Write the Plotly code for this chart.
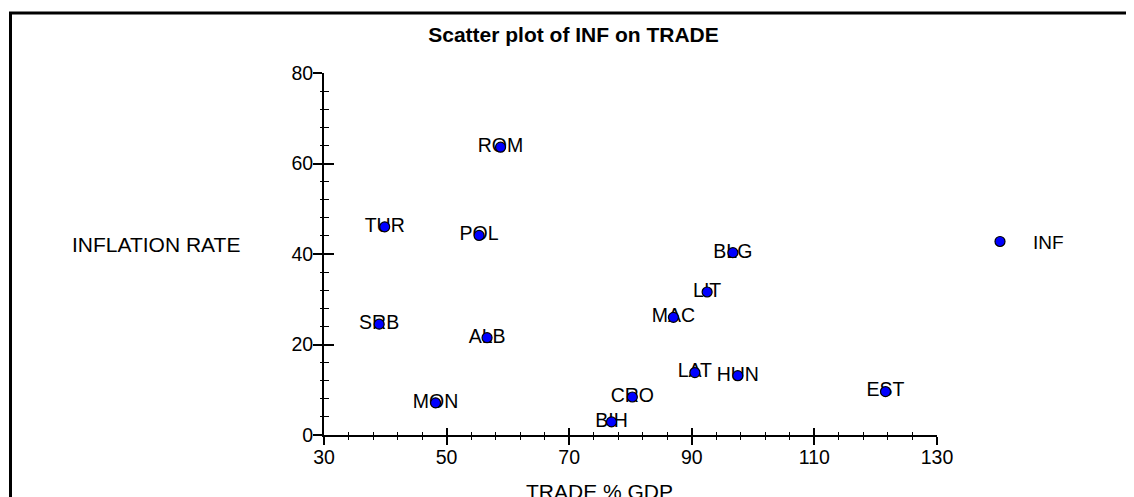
import plotly.graph_objects as go

# ---- data ----
countries = ["ROM", "TUR", "POL", "BLG", "LIT", "MAC", "SRB", "ALB",
             "LAT", "HUN", "EST", "CRO", "MON", "BIH"]
trade = [58.8, 39.9, 55.3, 96.7, 92.5, 87.0, 39.0, 56.6,
         90.5, 97.5, 121.6, 80.3, 48.2, 76.9]
inflation = [63.6, 46.0, 44.1, 40.3, 31.6, 26.0, 24.5, 21.5,
             13.8, 13.1, 9.6, 8.4, 7.1, 2.9]
x_range = [30, 130]
y_range = [0, 80]
x_ticks = [30, 50, 70, 90, 110, 130]
y_ticks = [0, 20, 40, 60, 80]

# ---- layout geometry (page pixels; the page body adds an 8px offset) ----
OFF = 8
W, H = 1134 - OFF, 497 - OFF
L, R, T, B = 324 - OFF, 937 - OFF, 72.7 - OFF, 435.5 - OFF
PW, PH = R - L, B - T

def px(xp):
    return (xp - OFF - L) / PW

def py(yp):
    return (B - (yp - OFF)) / PH

FONT = "Liberation Sans, Arial, sans-serif"
FS = 19.5

fig = go.Figure()

# labels (drawn under the markers)
fig.add_trace(go.Scatter(
    x=trade, y=inflation, text=countries, mode="text",
    textposition="middle center",
    textfont=dict(family=FONT, size=FS, color="#000000"),
    showlegend=False, hoverinfo="skip",
    xaxis="x", yaxis="y",
))

# markers (on overlay axes so they sit above the labels)
fig.add_trace(go.Scatter(
    x=trade, y=inflation, mode="markers", name="INF",
    marker=dict(size=10, color="#0000FF",
                line=dict(color="#000000", width=1.2)),
    xaxis="x2", yaxis="y2",
))

axis_common = dict(showgrid=False, zeroline=False, showline=False,
                   linecolor="#000000", tickcolor="#000000")

fig.update_layout(
    width=W, height=H,
    margin=dict(l=L, r=W - R, t=T, b=H - B, pad=0),
    paper_bgcolor="#FFFFFF", plot_bgcolor="#FFFFFF",
    font=dict(family=FONT, size=FS, color="#000000"),
    title=dict(text="<b>Scatter plot of INF on TRADE</b>",
               x=(573.5 - OFF) / W, xref="container", xanchor="center",
               y=1 - (35 - OFF) / H, yref="container", yanchor="middle",
               font=dict(family=FONT, size=21, color="#000000")),
    xaxis=dict(range=x_range, tickvals=x_ticks, ticks="outside",
               ticklen=8, tickwidth=1.6, showline=True, linewidth=2,
               ticklabelstandoff=-4,
               minor=dict(dtick=4, tick0=30, ticks="outside", ticklen=3,
                          tickwidth=1.3, tickcolor="#000000"),
               showgrid=False, zeroline=False, linecolor="#000000",
               tickcolor="#000000", tickfont=dict(size=FS, color="#000000"),
               fixedrange=True),
    yaxis=dict(range=y_range, tickvals=y_ticks, ticks="outside",
               ticklen=9, tickwidth=1.6, showline=True, linewidth=2,
               ticklabelstandoff=-4,
               minor=dict(dtick=4, tick0=0, ticks="outside", ticklen=2,
                          tickwidth=1.3, tickcolor="#000000"),
               showgrid=False, zeroline=False, linecolor="#000000",
               tickcolor="#000000", tickfont=dict(size=FS, color="#000000"),
               fixedrange=True),
    xaxis2=dict(range=x_range, overlaying="x", anchor="y2", side="bottom",
                tickvals=x_ticks, ticks="inside", ticklen=7, tickwidth=1.6,
                showticklabels=False,
                minor=dict(dtick=4, tick0=30, ticks="inside", ticklen=3,
                           tickwidth=1.3, tickcolor="#000000"),
                **axis_common, fixedrange=True),
    yaxis2=dict(range=y_range, overlaying="y", anchor="x2", side="left",
                tickvals=y_ticks, ticks="inside", ticklen=10, tickwidth=1.6,
                showticklabels=False,
                minor=dict(dtick=4, tick0=0, ticks="inside", ticklen=5,
                           tickwidth=1.3, tickcolor="#000000"),
                **axis_common, fixedrange=True),
    showlegend=True,
    legend=dict(x=px(967), xanchor="left", y=py(241.7), yanchor="middle",
                itemwidth=56, bgcolor="rgba(0,0,0,0)",
                font=dict(family=FONT, size=19, color="#000000")),
    annotations=[
        dict(text="INFLATION RATE", xref="paper", yref="paper",
             x=px(155.5), y=py(244.3), xanchor="center", yanchor="middle",
             showarrow=False, font=dict(family=FONT, size=21, color="#000000")),
        dict(text="TRADE % GDP", xref="paper", yref="paper",
             x=px(599), y=py(492), xanchor="center", yanchor="middle",
             showarrow=False, font=dict(family=FONT, size=21, color="#000000")),
    ],
    shapes=[
        dict(type="rect", xref="paper", yref="paper",
             x0=px(10.5), y0=py(600), x1=px(1300), y1=py(12.5),
             line=dict(color="#000000", width=3), fillcolor="rgba(0,0,0,0)",
             layer="below"),
    ],
)

fig.write_html("out.html")
